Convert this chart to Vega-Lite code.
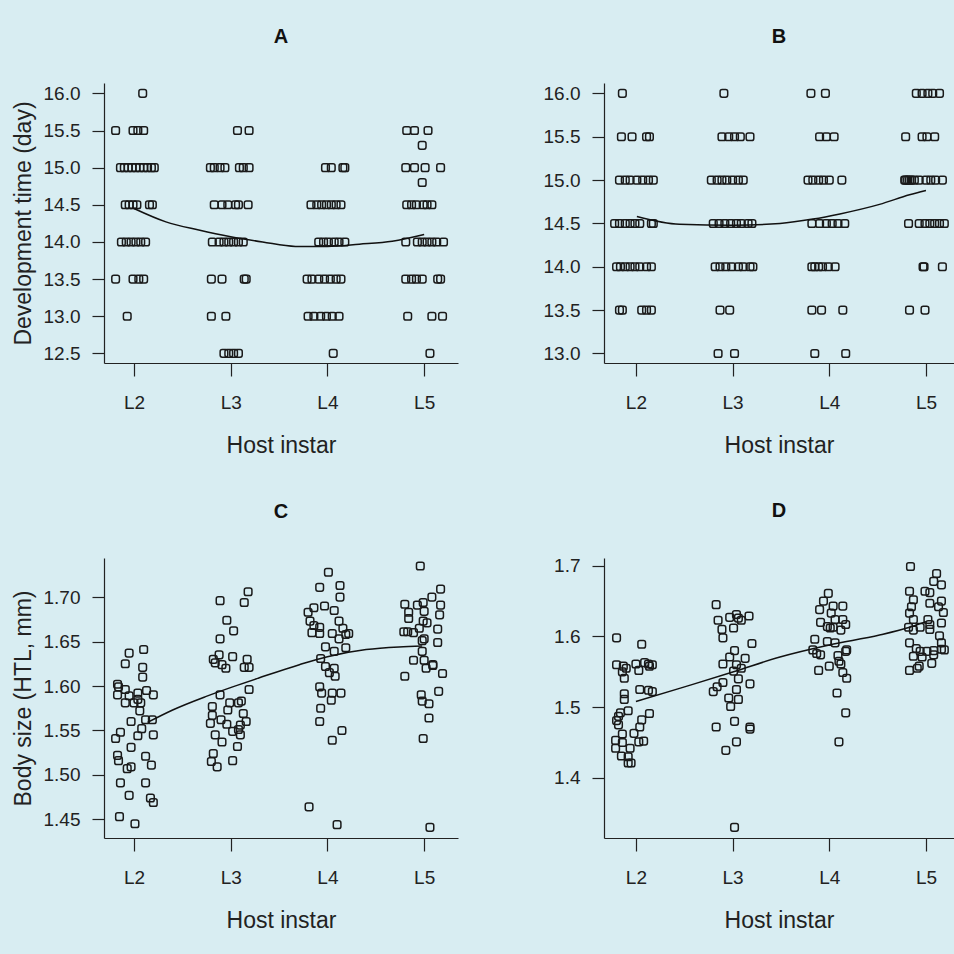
{
"$schema": "https://vega.github.io/schema/vega-lite/v6.json",
"background": "#d8edf2",
"padding": {"left": 12, "top": 27, "right": 3, "bottom": 24},
"columns": 2,
"bounds": "flush",
"spacing": {"row": 195, "column": 146},
"datasets": {
"A": [
{"x":1.09,"y":16.0},
{"x":0.81,"y":15.5},{"x":0.99,"y":15.5},{"x":1.04,"y":15.5},{"x":1.10,"y":15.5},{"x":2.07,"y":15.5},{"x":2.19,"y":15.5},{"x":3.82,"y":15.5},{"x":3.90,"y":15.5},{"x":4.04,"y":15.5},
{"x":3.98,"y":15.3},
{"x":0.86,"y":15.0},{"x":0.90,"y":15.0},{"x":0.94,"y":15.0},{"x":0.98,"y":15.0},{"x":1.02,"y":15.0},{"x":1.06,"y":15.0},{"x":1.10,"y":15.0},{"x":1.14,"y":15.0},{"x":1.18,"y":15.0},{"x":1.21,"y":15.0},
{"x":1.79,"y":15.0},{"x":1.83,"y":15.0},{"x":1.89,"y":15.0},{"x":1.94,"y":15.0},{"x":2.09,"y":15.0},{"x":2.13,"y":15.0},{"x":2.19,"y":15.0},
{"x":2.98,"y":15.0},{"x":3.04,"y":15.0},{"x":3.16,"y":15.0},{"x":3.18,"y":15.0},
{"x":3.81,"y":15.0},{"x":3.90,"y":15.0},{"x":4.01,"y":15.0},{"x":4.17,"y":15.0},
{"x":3.98,"y":14.8},
{"x":0.91,"y":14.5},{"x":0.95,"y":14.5},{"x":0.99,"y":14.5},{"x":1.03,"y":14.5},{"x":1.16,"y":14.5},{"x":1.19,"y":14.5},
{"x":1.83,"y":14.5},{"x":1.91,"y":14.5},{"x":1.97,"y":14.5},{"x":2.05,"y":14.5},{"x":2.08,"y":14.5},{"x":2.18,"y":14.5},
{"x":2.83,"y":14.5},{"x":2.89,"y":14.5},{"x":2.94,"y":14.5},{"x":2.99,"y":14.5},{"x":3.04,"y":14.5},{"x":3.09,"y":14.5},{"x":3.14,"y":14.5},
{"x":3.82,"y":14.5},{"x":3.87,"y":14.5},{"x":3.92,"y":14.5},{"x":3.99,"y":14.5},{"x":4.03,"y":14.5},{"x":4.08,"y":14.5},
{"x":0.87,"y":14.0},{"x":0.92,"y":14.0},{"x":0.97,"y":14.0},{"x":1.02,"y":14.0},{"x":1.07,"y":14.0},{"x":1.12,"y":14.0},
{"x":1.81,"y":14.0},{"x":1.88,"y":14.0},{"x":1.93,"y":14.0},{"x":1.98,"y":14.0},{"x":2.03,"y":14.0},{"x":2.08,"y":14.0},{"x":2.13,"y":14.0},
{"x":2.91,"y":14.0},{"x":2.96,"y":14.0},{"x":3.01,"y":14.0},{"x":3.07,"y":14.0},{"x":3.12,"y":14.0},{"x":3.18,"y":14.0},
{"x":3.81,"y":14.0},{"x":3.93,"y":14.0},{"x":3.98,"y":14.0},{"x":4.03,"y":14.0},{"x":4.08,"y":14.0},{"x":4.13,"y":14.0},{"x":4.20,"y":14.0},
{"x":0.81,"y":13.5},{"x":0.99,"y":13.5},{"x":1.05,"y":13.5},{"x":1.10,"y":13.5},
{"x":1.80,"y":13.5},{"x":1.91,"y":13.5},{"x":2.14,"y":13.5},{"x":2.16,"y":13.5},
{"x":2.79,"y":13.5},{"x":2.84,"y":13.5},{"x":2.91,"y":13.5},{"x":2.97,"y":13.5},{"x":3.03,"y":13.5},{"x":3.09,"y":13.5},{"x":3.14,"y":13.5},
{"x":3.81,"y":13.5},{"x":3.87,"y":13.5},{"x":3.92,"y":13.5},{"x":3.98,"y":13.5},{"x":4.14,"y":13.5},{"x":4.17,"y":13.5},
{"x":0.93,"y":13.0},{"x":1.80,"y":13.0},{"x":1.95,"y":13.0},
{"x":2.80,"y":13.0},{"x":2.86,"y":13.0},{"x":2.93,"y":13.0},{"x":2.99,"y":13.0},{"x":3.05,"y":13.0},{"x":3.12,"y":13.0},
{"x":3.83,"y":13.0},{"x":4.08,"y":13.0},{"x":4.19,"y":13.0},
{"x":1.93,"y":12.5},{"x":1.98,"y":12.5},{"x":2.03,"y":12.5},{"x":2.08,"y":12.5},{"x":3.06,"y":12.5},{"x":4.06,"y":12.5}
],
"B": [
{"x":0.86,"y":16.0},{"x":1.91,"y":16.0},{"x":2.81,"y":16.0},{"x":2.96,"y":16.0},{"x":3.90,"y":16.0},{"x":3.96,"y":16.0},{"x":4.02,"y":16.0},{"x":4.07,"y":16.0},{"x":4.14,"y":16.0},
{"x":0.85,"y":15.5},{"x":0.96,"y":15.5},{"x":1.11,"y":15.5},{"x":1.14,"y":15.5},{"x":1.89,"y":15.5},{"x":1.96,"y":15.5},{"x":2.02,"y":15.5},{"x":2.08,"y":15.5},{"x":2.18,"y":15.5},{"x":2.90,"y":15.5},{"x":2.97,"y":15.5},{"x":3.05,"y":15.5},{"x":3.79,"y":15.5},{"x":3.96,"y":15.5},{"x":4.01,"y":15.5},{"x":4.09,"y":15.5},
{"x":0.83,"y":15.0},{"x":0.89,"y":15.0},{"x":0.94,"y":15.0},{"x":1.01,"y":15.0},{"x":1.07,"y":15.0},{"x":1.13,"y":15.0},{"x":1.18,"y":15.0},
{"x":1.78,"y":15.0},{"x":1.84,"y":15.0},{"x":1.89,"y":15.0},{"x":1.94,"y":15.0},{"x":2.00,"y":15.0},{"x":2.06,"y":15.0},{"x":2.11,"y":15.0},
{"x":2.78,"y":15.0},{"x":2.83,"y":15.0},{"x":2.89,"y":15.0},{"x":2.94,"y":15.0},{"x":3.00,"y":15.0},{"x":3.13,"y":15.0},
{"x":3.78,"y":15.0},{"x":3.79,"y":15.0},{"x":3.81,"y":15.0},{"x":3.83,"y":15.0},{"x":3.85,"y":15.0},{"x":3.88,"y":15.0},{"x":3.93,"y":15.0},{"x":4.00,"y":15.0},{"x":4.05,"y":15.0},{"x":4.10,"y":15.0},{"x":4.17,"y":15.0},
{"x":0.78,"y":14.5},{"x":0.83,"y":14.5},{"x":0.89,"y":14.5},{"x":0.94,"y":14.5},{"x":0.99,"y":14.5},{"x":1.04,"y":14.5},{"x":1.16,"y":14.5},{"x":1.18,"y":14.5},
{"x":1.80,"y":14.5},{"x":1.86,"y":14.5},{"x":1.92,"y":14.5},{"x":1.98,"y":14.5},{"x":2.04,"y":14.5},{"x":2.09,"y":14.5},{"x":2.16,"y":14.5},{"x":2.20,"y":14.5},
{"x":2.82,"y":14.5},{"x":2.90,"y":14.5},{"x":2.97,"y":14.5},{"x":3.03,"y":14.5},{"x":3.09,"y":14.5},{"x":3.16,"y":14.5},
{"x":3.82,"y":14.5},{"x":3.93,"y":14.5},{"x":3.99,"y":14.5},{"x":4.04,"y":14.5},{"x":4.09,"y":14.5},{"x":4.14,"y":14.5},{"x":4.19,"y":14.5},
{"x":0.80,"y":14.0},{"x":0.84,"y":14.0},{"x":0.89,"y":14.0},{"x":0.94,"y":14.0},{"x":0.99,"y":14.0},{"x":1.04,"y":14.0},{"x":1.11,"y":14.0},{"x":1.16,"y":14.0},
{"x":1.82,"y":14.0},{"x":1.87,"y":14.0},{"x":1.93,"y":14.0},{"x":1.99,"y":14.0},{"x":2.06,"y":14.0},{"x":2.11,"y":14.0},{"x":2.18,"y":14.0},{"x":2.21,"y":14.0},
{"x":2.82,"y":14.0},{"x":2.85,"y":14.0},{"x":2.89,"y":14.0},{"x":2.93,"y":14.0},{"x":2.99,"y":14.0},{"x":3.06,"y":14.0},
{"x":3.97,"y":14.0},{"x":3.98,"y":14.0},{"x":4.17,"y":14.0},
{"x":0.83,"y":13.5},{"x":0.86,"y":13.5},{"x":1.06,"y":13.5},{"x":1.11,"y":13.5},{"x":1.16,"y":13.5},
{"x":1.87,"y":13.5},{"x":1.97,"y":13.5},{"x":2.82,"y":13.5},{"x":2.92,"y":13.5},{"x":3.14,"y":13.5},{"x":3.83,"y":13.5},{"x":3.99,"y":13.5},
{"x":1.85,"y":13.0},{"x":2.02,"y":13.0},{"x":2.85,"y":13.0},{"x":3.17,"y":13.0}
],
"C": [
{"x":0.95,"y":1.637},{"x":1.10,"y":1.641},{"x":0.91,"y":1.625},{"x":1.09,"y":1.621},{"x":1.09,"y":1.610},{"x":0.83,"y":1.602},{"x":0.84,"y":1.599},{"x":0.91,"y":1.596},{"x":1.13,"y":1.595},{"x":0.83,"y":1.590},
{"x":0.95,"y":1.589},{"x":1.04,"y":1.592},{"x":1.20,"y":1.590},{"x":0.91,"y":1.581},{"x":1.00,"y":1.581},{"x":1.07,"y":1.581},{"x":1.04,"y":1.585},{"x":1.06,"y":1.572},{"x":1.12,"y":1.562},{"x":0.97,"y":1.560},
{"x":1.19,"y":1.562},{"x":1.08,"y":1.552},{"x":0.81,"y":1.541},{"x":0.86,"y":1.548},{"x":1.04,"y":1.544},{"x":1.20,"y":1.545},{"x":0.97,"y":1.531},{"x":0.83,"y":1.522},{"x":0.84,"y":1.516},{"x":1.12,"y":1.521},
{"x":0.93,"y":1.507},{"x":0.97,"y":1.509},{"x":1.18,"y":1.511},{"x":0.86,"y":1.491},{"x":1.12,"y":1.491},{"x":0.95,"y":1.477},{"x":1.17,"y":1.474},{"x":1.20,"y":1.469},{"x":0.85,"y":1.453},{"x":1.01,"y":1.445},
{"x":1.89,"y":1.696},{"x":2.14,"y":1.694},{"x":2.18,"y":1.706},{"x":1.96,"y":1.674},{"x":2.03,"y":1.662},{"x":1.89,"y":1.653},{"x":1.82,"y":1.630},{"x":1.88,"y":1.635},{"x":1.84,"y":1.626},{"x":1.91,"y":1.624},
{"x":1.95,"y":1.620},{"x":2.02,"y":1.633},{"x":2.17,"y":1.630},{"x":2.14,"y":1.621},{"x":2.19,"y":1.621},{"x":1.89,"y":1.590},{"x":2.19,"y":1.596},{"x":1.81,"y":1.577},{"x":1.99,"y":1.581},{"x":2.08,"y":1.581},
{"x":2.11,"y":1.583},{"x":1.97,"y":1.573},{"x":1.81,"y":1.567},{"x":2.13,"y":1.569},{"x":1.79,"y":1.558},{"x":2.16,"y":1.560},{"x":1.90,"y":1.562},{"x":1.84,"y":1.545},{"x":2.02,"y":1.549},{"x":2.08,"y":1.551},
{"x":2.10,"y":1.545},{"x":1.91,"y":1.537},{"x":2.07,"y":1.532},{"x":1.82,"y":1.524},{"x":1.80,"y":1.515},{"x":1.86,"y":1.509},{"x":2.02,"y":1.516},{"x":2.10,"y":1.556},{"x":1.96,"y":1.557},
{"x":3.01,"y":1.728},{"x":2.92,"y":1.711},{"x":3.13,"y":1.713},{"x":3.13,"y":1.700},{"x":2.86,"y":1.688},{"x":2.97,"y":1.690},{"x":3.07,"y":1.685},{"x":2.80,"y":1.683},{"x":2.82,"y":1.673},{"x":2.86,"y":1.668},
{"x":2.92,"y":1.666},{"x":2.84,"y":1.660},{"x":2.92,"y":1.659},{"x":3.12,"y":1.673},{"x":3.16,"y":1.665},{"x":3.05,"y":1.659},{"x":3.19,"y":1.658},{"x":3.12,"y":1.653},{"x":2.98,"y":1.644},{"x":3.07,"y":1.639},
{"x":3.19,"y":1.643},{"x":2.93,"y":1.631},{"x":2.98,"y":1.622},{"x":3.07,"y":1.620},{"x":3.02,"y":1.615},{"x":3.08,"y":1.611},{"x":2.92,"y":1.599},{"x":2.94,"y":1.592},{"x":3.05,"y":1.592},{"x":3.14,"y":1.592},
{"x":3.04,"y":1.584},{"x":2.93,"y":1.575},{"x":2.92,"y":1.560},{"x":3.15,"y":1.550},{"x":3.05,"y":1.539},{"x":2.81,"y":1.464},{"x":3.10,"y":1.444},{"x":3.22,"y":1.659},
{"x":3.96,"y":1.735},{"x":4.17,"y":1.709},{"x":4.08,"y":1.700},{"x":3.80,"y":1.692},{"x":3.93,"y":1.691},{"x":3.99,"y":1.694},{"x":4.17,"y":1.691},{"x":3.84,"y":1.683},{"x":4.00,"y":1.684},{"x":4.16,"y":1.680},
{"x":3.84,"y":1.676},{"x":3.99,"y":1.673},{"x":4.03,"y":1.671},{"x":3.83,"y":1.661},{"x":3.89,"y":1.660},{"x":3.95,"y":1.665},{"x":4.14,"y":1.664},{"x":4.00,"y":1.653},{"x":3.98,"y":1.651},{"x":4.14,"y":1.649},
{"x":3.98,"y":1.639},{"x":3.89,"y":1.629},{"x":4.00,"y":1.629},{"x":4.09,"y":1.624},{"x":4.02,"y":1.620},{"x":3.80,"y":1.611},{"x":4.19,"y":1.614},{"x":3.97,"y":1.590},{"x":4.15,"y":1.594},{"x":3.98,"y":1.583},
{"x":4.05,"y":1.580},{"x":4.05,"y":1.564},{"x":3.99,"y":1.541},{"x":4.06,"y":1.441},{"x":4.09,"y":1.623},{"x":3.79,"y":1.661}
],
"D": [
{"x":0.80,"y":1.598},{"x":1.06,"y":1.589},{"x":0.80,"y":1.560},{"x":0.87,"y":1.558},{"x":0.90,"y":1.555},{"x":0.88,"y":1.541},{"x":0.86,"y":1.550},{"x":1.00,"y":1.561},{"x":1.03,"y":1.552},{"x":1.09,"y":1.563},
{"x":1.13,"y":1.561},{"x":1.17,"y":1.560},{"x":1.14,"y":1.558},{"x":1.04,"y":1.525},{"x":1.13,"y":1.524},{"x":1.17,"y":1.522},{"x":0.88,"y":1.519},{"x":0.88,"y":1.511},{"x":0.92,"y":1.495},{"x":0.84,"y":1.492},
{"x":0.82,"y":1.487},{"x":0.80,"y":1.481},{"x":0.82,"y":1.475},{"x":1.14,"y":1.491},{"x":1.06,"y":1.482},{"x":1.04,"y":1.472},{"x":0.86,"y":1.462},{"x":0.98,"y":1.463},{"x":0.79,"y":1.453},{"x":0.86,"y":1.450},
{"x":1.03,"y":1.451},{"x":1.08,"y":1.452},{"x":0.79,"y":1.442},{"x":0.94,"y":1.442},{"x":0.85,"y":1.431},{"x":0.92,"y":1.430},{"x":0.92,"y":1.421},{"x":0.95,"y":1.421},
{"x":1.83,"y":1.645},{"x":1.97,"y":1.627},{"x":2.04,"y":1.631},{"x":2.06,"y":1.626},{"x":2.17,"y":1.629},{"x":1.85,"y":1.623},{"x":2.09,"y":1.623},{"x":1.89,"y":1.610},{"x":2.01,"y":1.612},{"x":1.90,"y":1.598},
{"x":2.20,"y":1.590},{"x":2.02,"y":1.580},{"x":1.97,"y":1.571},{"x":2.13,"y":1.569},{"x":1.90,"y":1.561},{"x":2.04,"y":1.560},{"x":2.01,"y":1.551},{"x":2.09,"y":1.555},{"x":2.06,"y":1.540},{"x":1.90,"y":1.535},
{"x":1.84,"y":1.529},{"x":1.80,"y":1.522},{"x":2.18,"y":1.533},{"x":2.04,"y":1.525},{"x":1.96,"y":1.513},{"x":2.06,"y":1.511},{"x":1.98,"y":1.501},{"x":2.02,"y":1.480},{"x":1.83,"y":1.472},{"x":2.18,"y":1.472},
{"x":2.18,"y":1.469},{"x":2.04,"y":1.451},{"x":1.93,"y":1.439},{"x":2.02,"y":1.330},
{"x":2.99,"y":1.661},{"x":2.94,"y":1.650},{"x":3.04,"y":1.643},{"x":3.14,"y":1.643},{"x":2.90,"y":1.638},{"x":3.02,"y":1.633},{"x":2.91,"y":1.620},{"x":2.98,"y":1.614},{"x":3.01,"y":1.612},{"x":3.04,"y":1.613},
{"x":3.12,"y":1.609},{"x":3.17,"y":1.617},{"x":3.14,"y":1.624},{"x":3.06,"y":1.624},{"x":2.85,"y":1.596},{"x":2.98,"y":1.593},{"x":3.06,"y":1.591},{"x":2.83,"y":1.581},{"x":2.87,"y":1.576},{"x":2.91,"y":1.574},
{"x":3.17,"y":1.579},{"x":3.18,"y":1.581},{"x":3.09,"y":1.573},{"x":3.10,"y":1.565},{"x":3.12,"y":1.561},{"x":3.00,"y":1.558},{"x":2.89,"y":1.552},{"x":3.14,"y":1.549},{"x":3.18,"y":1.541},{"x":3.08,"y":1.520},
{"x":3.17,"y":1.492},{"x":3.10,"y":1.451},
{"x":3.84,"y":1.699},{"x":4.11,"y":1.689},{"x":4.08,"y":1.678},{"x":4.16,"y":1.673},{"x":3.83,"y":1.664},{"x":3.99,"y":1.664},{"x":4.04,"y":1.662},{"x":3.87,"y":1.652},{"x":4.16,"y":1.650},{"x":4.04,"y":1.647},
{"x":3.85,"y":1.642},{"x":4.13,"y":1.642},{"x":4.18,"y":1.634},{"x":3.83,"y":1.633},{"x":3.87,"y":1.624},{"x":4.02,"y":1.624},{"x":3.82,"y":1.613},{"x":3.87,"y":1.609},{"x":3.94,"y":1.613},{"x":4.04,"y":1.617},
{"x":4.04,"y":1.610},{"x":4.16,"y":1.619},{"x":4.14,"y":1.601},{"x":3.83,"y":1.591},{"x":4.16,"y":1.591},{"x":3.90,"y":1.583},{"x":3.94,"y":1.579},{"x":4.01,"y":1.579},{"x":4.16,"y":1.582},{"x":4.19,"y":1.581},
{"x":3.87,"y":1.572},{"x":3.96,"y":1.571},{"x":4.08,"y":1.574},{"x":4.06,"y":1.562},{"x":3.93,"y":1.558},{"x":3.91,"y":1.555},{"x":3.83,"y":1.552},{"x":4.08,"y":1.580}
],
"fA": [{"x":1.0,"y":14.45},{"x":1.33,"y":14.27},{"x":1.67,"y":14.16},{"x":2.0,"y":14.07},{"x":2.33,"y":14.0},{"x":2.67,"y":13.94},{"x":3.0,"y":13.94},{"x":3.33,"y":13.97},{"x":3.67,"y":14.01},{"x":4.0,"y":14.10}],
"fB": [{"x":1.01,"y":14.58},{"x":1.45,"y":14.49},{"x":2.01,"y":14.48},{"x":2.49,"y":14.5},{"x":2.83,"y":14.55},{"x":3.11,"y":14.61},{"x":3.52,"y":14.72},{"x":3.83,"y":14.83},{"x":4.0,"y":14.88}],
"fC": [{"x":1.14,"y":1.559},{"x":1.40,"y":1.573},{"x":1.74,"y":1.588},{"x":2.02,"y":1.599},{"x":2.29,"y":1.609},{"x":2.71,"y":1.624},{"x":3.0,"y":1.633},{"x":3.40,"y":1.641},{"x":3.74,"y":1.644},{"x":3.98,"y":1.645}],
"fD": [{"x":1.0,"y":1.508},{"x":1.46,"y":1.527},{"x":2.01,"y":1.550},{"x":2.49,"y":1.571},{"x":3.0,"y":1.588},{"x":3.52,"y":1.602},{"x":3.83,"y":1.613},{"x":4.0,"y":1.621}]
},
"concat": [
{
"width": 354, "height": 280, "title": "A",
"layer": [
{"data": {"name": "A"},
"mark": {"type": "point", "shape": "M-0.45,-1H0.45C0.85,-1 1,-0.85 1,-0.45V0.45C1,0.85 0.85,1 0.45,1H-0.45C-0.85,1 -1,0.85 -1,0.45V-0.45C-1,-0.85 -0.85,-1 -0.45,-1Z", "filled": false, "color": "#1a1a1a", "strokeWidth": 1.5, "size": 58, "opacity": 1},
"encoding": {
"x": {"field": "x", "type": "quantitative", "scale": {"domain": [0.69, 4.35], "nice": false, "zero": false}, "axis": {"values": [1,2,3,4], "labelExpr": "'L' + (datum.value + 1)", "title": "Host instar"}},
"y": {"field": "y", "type": "quantitative", "scale": {"domain": [12.37, 16.14], "nice": false, "zero": false}, "axis": {"values": [12.5,13,13.5,14,14.5,15,15.5,16], "tickCount": 20, "format": ".1f", "title": "Development time (day)"}}
}},
{"data": {"name": "fA"}, "mark": {"type": "line", "color": "#111111", "strokeWidth": 1.5, "interpolate": "monotone"},
"encoding": {"x": {"field": "x", "type": "quantitative"}, "y": {"field": "y", "type": "quantitative"}}}
]
},
{
"width": 350, "height": 280, "title": "B",
"layer": [
{"data": {"name": "B"},
"mark": {"type": "point", "shape": "M-0.45,-1H0.45C0.85,-1 1,-0.85 1,-0.45V0.45C1,0.85 0.85,1 0.45,1H-0.45C-0.85,1 -1,0.85 -1,0.45V-0.45C-1,-0.85 -0.85,-1 -0.45,-1Z", "filled": false, "color": "#1a1a1a", "strokeWidth": 1.5, "size": 58, "opacity": 1},
"encoding": {
"x": {"field": "x", "type": "quantitative", "scale": {"domain": [0.67, 4.29], "nice": false, "zero": false}, "axis": {"values": [1,2,3,4], "labelExpr": "'L' + (datum.value + 1)", "title": "Host instar"}},
"y": {"field": "y", "type": "quantitative", "scale": {"domain": [12.89, 16.12], "nice": false, "zero": false}, "axis": {"values": [13,13.5,14,14.5,15,15.5,16], "tickCount": 20, "format": ".1f", "title": null}}
}},
{"data": {"name": "fB"}, "mark": {"type": "line", "color": "#111111", "strokeWidth": 1.5, "interpolate": "monotone"},
"encoding": {"x": {"field": "x", "type": "quantitative"}, "y": {"field": "y", "type": "quantitative"}}}
]
},
{
"width": 354, "height": 280, "title": "C",
"layer": [
{"data": {"name": "C"},
"mark": {"type": "point", "shape": "M-0.45,-1H0.45C0.85,-1 1,-0.85 1,-0.45V0.45C1,0.85 0.85,1 0.45,1H-0.45C-0.85,1 -1,0.85 -1,0.45V-0.45C-1,-0.85 -0.85,-1 -0.45,-1Z", "filled": false, "color": "#1a1a1a", "strokeWidth": 1.5, "size": 58, "opacity": 1},
"encoding": {
"x": {"field": "x", "type": "quantitative", "scale": {"domain": [0.69, 4.35], "nice": false, "zero": false}, "axis": {"values": [1,2,3,4], "labelExpr": "'L' + (datum.value + 1)", "title": "Host instar"}},
"y": {"field": "y", "type": "quantitative", "scale": {"domain": [1.429, 1.744], "nice": false, "zero": false}, "axis": {"values": [1.45,1.5,1.55,1.6,1.65,1.7], "tickCount": 20, "format": ".2f", "title": "Body size (HTL, mm)"}}
}},
{"data": {"name": "fC"}, "mark": {"type": "line", "color": "#111111", "strokeWidth": 1.5, "interpolate": "monotone"},
"encoding": {"x": {"field": "x", "type": "quantitative"}, "y": {"field": "y", "type": "quantitative"}}}
]
},
{
"width": 350, "height": 280, "title": "D",
"layer": [
{"data": {"name": "D"},
"mark": {"type": "point", "shape": "M-0.45,-1H0.45C0.85,-1 1,-0.85 1,-0.45V0.45C1,0.85 0.85,1 0.45,1H-0.45C-0.85,1 -1,0.85 -1,0.45V-0.45C-1,-0.85 -0.85,-1 -0.45,-1Z", "filled": false, "color": "#1a1a1a", "strokeWidth": 1.5, "size": 58, "opacity": 1},
"encoding": {
"x": {"field": "x", "type": "quantitative", "scale": {"domain": [0.67, 4.29], "nice": false, "zero": false}, "axis": {"values": [1,2,3,4], "labelExpr": "'L' + (datum.value + 1)", "title": "Host instar"}},
"y": {"field": "y", "type": "quantitative", "scale": {"domain": [1.315, 1.711], "nice": false, "zero": false}, "axis": {"values": [1.4,1.5,1.6,1.7], "tickCount": 20, "format": ".1f", "title": null}}
}},
{"data": {"name": "fD"}, "mark": {"type": "line", "color": "#111111", "strokeWidth": 1.5, "interpolate": "monotone"},
"encoding": {"x": {"field": "x", "type": "quantitative"}, "y": {"field": "y", "type": "quantitative"}}}
]
}
],
"config": {
"view": {"stroke": null},
"axis": {"domainColor": "#222222", "tickColor": "#222222", "labelColor": "#222222", "titleColor": "#222222", "labelFont": "Liberation Sans", "titleFont": "Liberation Sans", "labelFontSize": 19, "titleFontSize": 23, "titleFontWeight": "normal", "grid": false, "domainWidth": 1.2, "tickWidth": 1.2, "labelOverlap": false, "labelFlush": false, "labelBound": false},
"axisX": {"tickSize": 13, "labelPadding": 17, "titlePadding": 22},
"axisY": {"tickSize": 12, "labelPadding": 12, "titlePadding": 8},
"title": {"font": "Liberation Sans", "fontSize": 20, "fontWeight": "bold", "color": "#111111", "frame": "group", "offset": 36}
}
}
